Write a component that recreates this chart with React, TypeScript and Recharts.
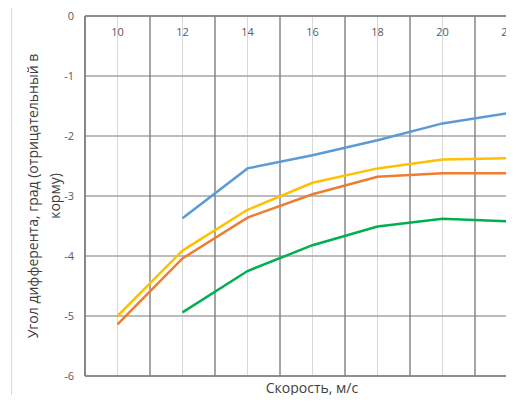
import { CartesianGrid, Line, LineChart, ReferenceLine, XAxis, YAxis } from "recharts";

// speed, m/s
const speeds = [10, 12, 14, 16, 18, 20, 22];
// trim angle, deg (negative = by the stern), four variants
const blueSeries = [null, -3.37, -2.54, -2.32, -2.07, -1.79, -1.62];
const yellowSeries = [-5.0, -3.91, -3.23, -2.78, -2.54, -2.39, -2.37];
const orangeSeries = [-5.14, -4.04, -3.36, -2.97, -2.68, -2.62, -2.62];
const greenSeries = [null, -4.94, -4.25, -3.82, -3.51, -3.38, -3.42];

const yTicks = [-6, -5, -4, -3, -2, -1, 0];
const bandEdges = [9, 11, 13, 15, 17, 19, 21, 23];

const data = speeds.map((s, i) => ({
  speed: s,
  blue: blueSeries[i],
  yellow: yellowSeries[i],
  orange: orangeSeries[i],
  green: greenSeries[i],
}));

const font = "'Open Sans', 'Liberation Sans', Arial, sans-serif";
const tickStyle = { fontSize: 11, fill: "#595959", fontFamily: font };

export default function App() {
  return (
    <div style={{ position: "relative", width: 514, height: 403, margin: -8, overflow: "hidden", background: "#fff" }}>
      <div
        style={{
          position: "absolute", left: 11, top: 5, width: 600, height: 500,
          border: "1px solid #d9d9d9", boxSizing: "border-box",
        }}
      />
      <div style={{ position: "absolute", left: 0, top: 0 }}>
        <LineChart width={560} height={403} data={data} margin={{ top: 16, right: 20, left: 45, bottom: 27 }}>
          <CartesianGrid vertical horizontal={false} stroke="#d9d9d9" strokeWidth={1} />
          <CartesianGrid vertical={false} horizontal stroke="#a6a6a6" strokeWidth={1.3} />
          {bandEdges.map(e => (
            <ReferenceLine key={e} x={e} stroke="#7f7f7f" strokeWidth={1.4} ifOverflow="extendDomain" />
          ))}
          <ReferenceLine y={-6} stroke="#7f7f7f" strokeWidth={1.4} />
          <XAxis
            dataKey="speed"
            type="number"
            orientation="top"
            mirror
            height={16}
            domain={[9, 23]}
            ticks={speeds}
            tickLine={false}
            tickSize={0}
            tickMargin={12}
            axisLine={{ stroke: "#7f7f7f", strokeWidth: 1.4 }}
            tick={tickStyle}
          />
          <YAxis
            width={40}
            domain={[-6, 0]}
            ticks={yTicks}
            tickLine={false}
            tickSize={0}
            tickMargin={11}
            axisLine={{ stroke: "#7f7f7f", strokeWidth: 1.4 }}
            tick={tickStyle}
          />
          <Line dataKey="blue" stroke="#5b9bd5" strokeWidth={2.5} dot={false} isAnimationActive={false} />
          <Line dataKey="yellow" stroke="#ffc000" strokeWidth={2.5} dot={false} isAnimationActive={false} />
          <Line dataKey="orange" stroke="#ed7d31" strokeWidth={2.5} dot={false} isAnimationActive={false} />
          <Line dataKey="green" stroke="#00b050" strokeWidth={2.5} dot={false} isAnimationActive={false} />
        </LineChart>
      </div>
      <div
        style={{
          position: "absolute", left: 44 - 180, top: 196 - 22, width: 360, height: 44,
          transform: "rotate(-90deg)", textAlign: "center", fontFamily: font,
          fontSize: 14, lineHeight: "22px", color: "#404040",
        }}
      >
        Угол дифферента, град (отрицательный в<br />корму)
      </div>
      <div
        style={{
          position: "absolute", left: 212, top: 378, width: 200, textAlign: "center",
          fontFamily: font, fontSize: 14, color: "#404040",
        }}
      >
        Скорость, м/с
      </div>
    </div>
  );
}
